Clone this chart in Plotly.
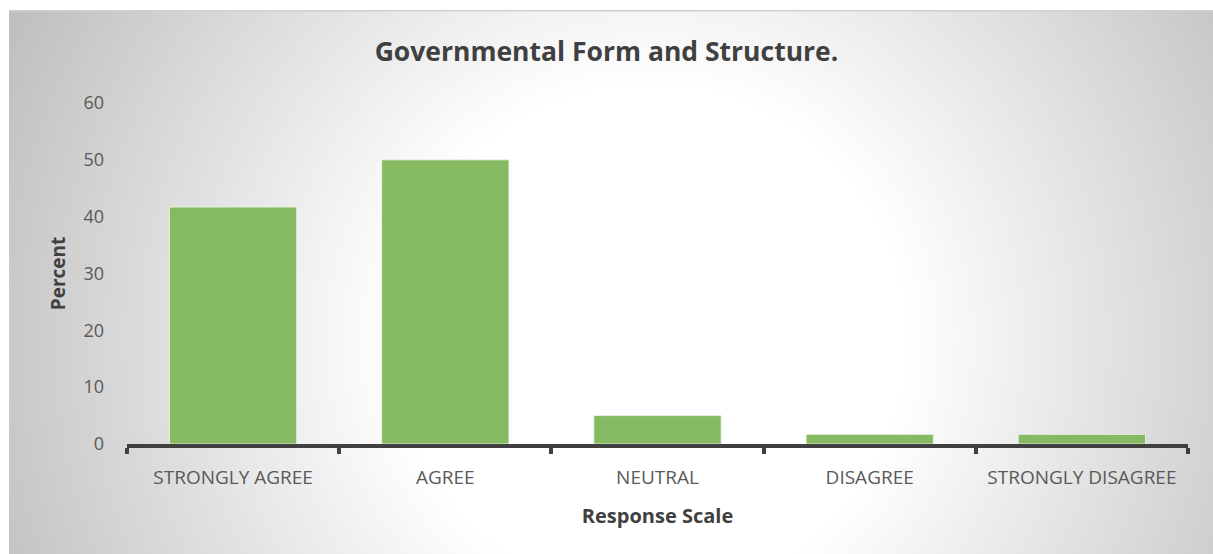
import base64
import plotly.graph_objects as go

# Survey responses (percent of respondents)
categories = ["STRONGLY AGREE", "AGREE", "NEUTRAL", "DISAGREE", "STRONGLY DISAGREE"]
percent = [41.7, 50.0, 5.0, 1.7, 1.7]
y_ticks = [0, 10, 20, 30, 40, 50, 60]

W, H = 1213, 554
L, R, T, B = 127, 25, 103, 110

# Radial grey-to-white backdrop for the chart frame
svg = """<svg xmlns='http://www.w3.org/2000/svg' width='1204' height='544' viewBox='0 0 1204 544' preserveAspectRatio='none'>
<defs><radialGradient id='g' cx='641' cy='330' r='705' gradientUnits='userSpaceOnUse'>
<stop offset='0' stop-color='#ffffff'/><stop offset='0.36' stop-color='#ffffff'/>
<stop offset='1' stop-color='#c0c0c0'/></radialGradient></defs>
<rect x='0' y='0' width='1204' height='544' fill='url(#g)'/>
<line x1='0' y1='0.75' x2='1204' y2='0.75' stroke='#d0d0d0' stroke-width='1.5'/>
</svg>"""
src = "data:image/svg+xml;base64," + base64.b64encode(svg.encode()).decode()

pw, ph = W - L - R, H - T - B
fx0, fy0 = 9, 10  # frame top-left in pixels

fig = go.Figure(
    go.Bar(
        x=categories,
        y=percent,
        marker=dict(color="#85BA63", line=dict(color="rgba(235,245,228,0.9)", width=1)),
        hoverinfo="x+y",
    )
)

fig.add_layout_image(
    source=src,
    xref="paper", yref="paper",
    x=(fx0 - L) / pw, y=(H - B - fy0) / ph,
    sizex=(W - fx0) / pw, sizey=(H - fy0) / ph,
    xanchor="left", yanchor="top",
    sizing="stretch", layer="below",
)

fig.update_layout(
    width=W, height=H,
    margin=dict(l=L, r=R, t=T, b=B),
    paper_bgcolor="white",
    plot_bgcolor="rgba(0,0,0,0)",
    bargap=0.4,
    showlegend=False,
    font=dict(family="Open Sans", color="#595959"),
    title=dict(
        text="<b>Governmental Form and Structure.</b>",
        x=0.5, xanchor="center", xref="container",
        y=1 - 52 / H, yanchor="middle", yref="container",
        font=dict(size=26.5, color="#404040", family="Open Sans"),
    ),
    xaxis=dict(
        type="category",
        showline=True, linecolor="#404040", linewidth=4,
        ticks="outside", tickson="boundaries", ticklen=6, tickwidth=4, tickcolor="#404040",
        tickfont=dict(size=19, color="#595959"),
        ticklabelstandoff=13,
        showgrid=False,
        title=dict(text="<b>Response Scale</b>", font=dict(size=20, color="#404040"), standoff=21),
    ),
    yaxis=dict(
        range=[0, 60],
        tickvals=y_ticks,
        showgrid=False, zeroline=False, showline=False,
        ticks="", tickfont=dict(size=18, color="#595959"),
        ticklabelstandoff=22,
        title=dict(text="<b>Percent</b>", font=dict(size=19, color="#404040"), standoff=12),
    ),
)

fig.write_html("out.html")
